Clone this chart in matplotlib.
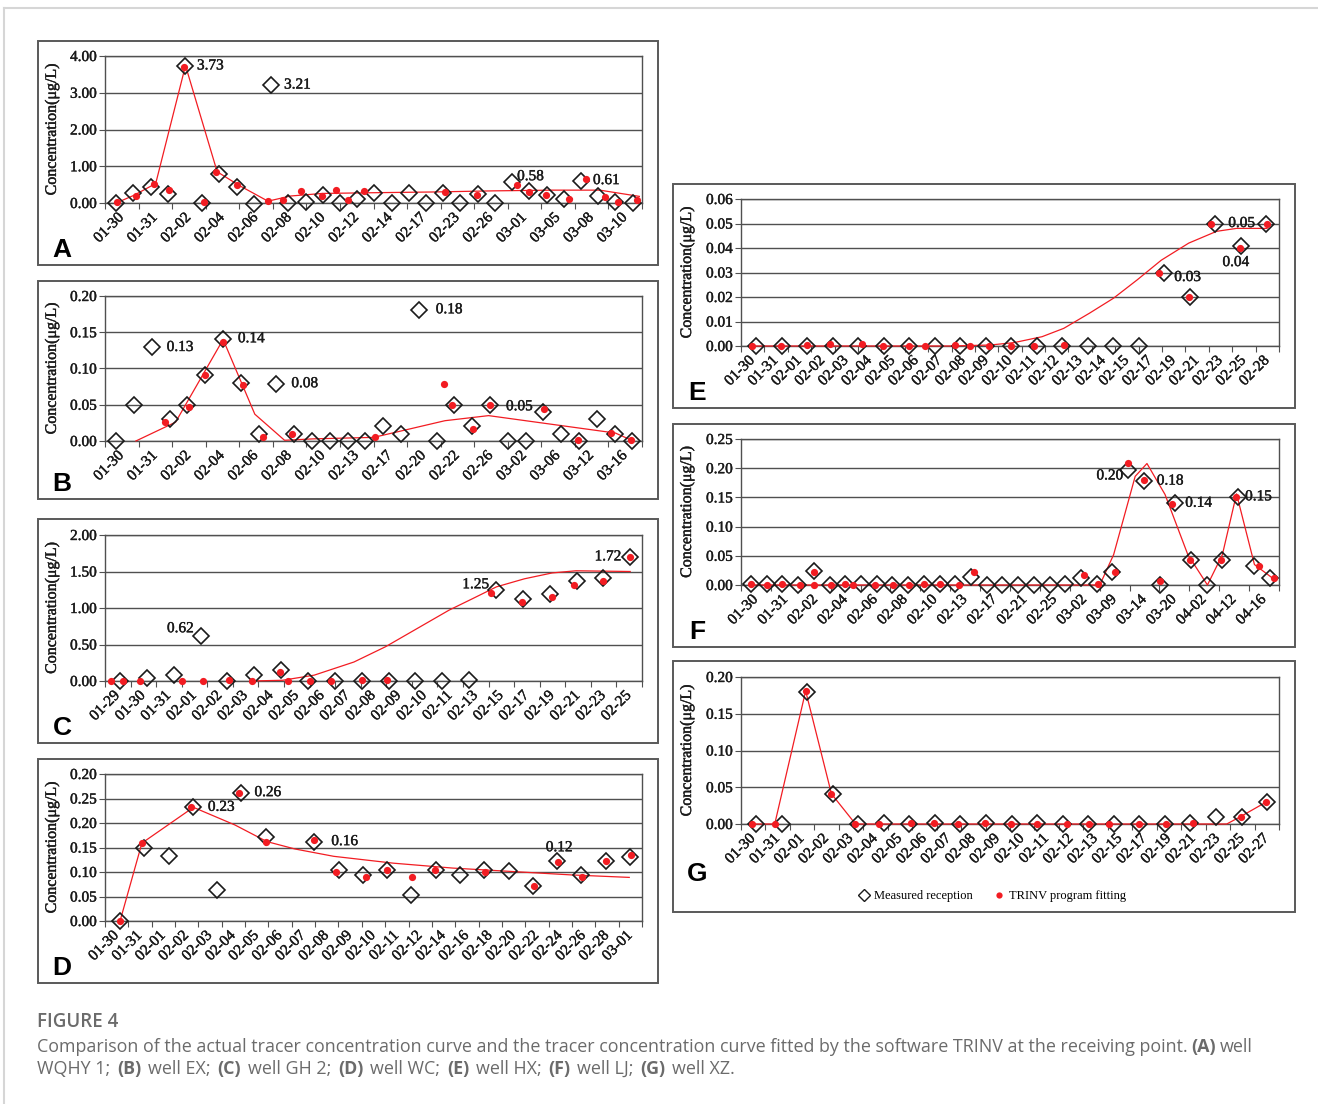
import numpy as np
import matplotlib
matplotlib.use('Agg')
import matplotlib.pyplot as plt
import matplotlib.patheffects as pe
from matplotlib.patches import Rectangle
from matplotlib.lines import Line2D

nan = np.nan

# ---------------- data (x of fitted/curve points in measured-sample index units) ----------------
a_labels = ['01-30', '01-31', '02-02', '02-04', '02-06', '02-08', '02-10', '02-12', '02-14', '02-17',
            '02-23', '02-26', '03-01', '03-05', '03-08', '03-10']
a_meas = [0.00, 0.26, 0.44, 0.24, 3.73, 0.00, 0.80, 0.44, -0.02, 3.21, 0.00, 0.02, 0.23, -0.01, 0.12, 0.27,
          -0.01, 0.27, 0.00, 0.27, 0.00, 0.24, 0.00, 0.58, 0.33, 0.21, 0.11, 0.61, 0.19, 0.02, 0.00]
a_fit_x = [0.07, 1.15, 2.19, 3.06, 3.96, 5.11, 5.83, 7.02, 8.82, 9.69, 10.73, 11.97, 12.78, 13.49, 14.37,
           19.09, 20.95, 23.26, 23.99, 24.94, 26.30, 27.31, 28.37, 29.13, 30.26]
a_fit_y = [0.03, 0.18, 0.51, 0.35, 3.71, 0.03, 0.85, 0.50, 0.06, 0.08, 0.34, 0.19, 0.36, 0.08, 0.33,
           0.30, 0.23, 0.48, 0.31, 0.21, 0.12, 0.64, 0.16, 0.03, 0.08]
a_line_x = [0, 1.04, 2.30, 4.03, 5.87, 7.14, 8.82, 10.13, 11.97, 14.97, 18.42, 21.87, 25.33, 28.09, 30.39]
a_line_y = [0, 0.21, 0.53, 3.74, 0.85, 0.48, 0.05, 0.19, 0.26, 0.28, 0.30, 0.33, 0.35, 0.35, 0.18]

b_labels = ['01-30', '01-31', '02-02', '02-04', '02-06', '02-08', '02-10', '02-13', '02-17', '02-20',
            '02-22', '02-26', '03-02', '03-06', '03-12', '03-16']
b_meas = [0, 0.050, 0.129, 0.030, 0.050, 0.091, 0.141, 0.080, 0.010, 0.079, 0.010, 0, 0, 0, 0, 0.020,
          0.010, 0.181, 0, 0.049, 0.020, 0.050, 0, 0, 0.040, 0.010, 0, 0.030, 0.010, 0]
b_fit_x = [2.72, 4.07, 5.01, 6.01, 7.12, 8.24, 9.86, 14.53, 18.43, 18.87, 20.03, 20.99, 24.04, 25.93,
           27.82, 28.93]
b_fit_y = [0.026, 0.047, 0.091, 0.137, 0.077, 0.006, 0.010, 0.006, 0.078, 0.049, 0.016, 0.050, 0.044,
           0.002, 0.011, 0.002]
b_line_x = [1.11, 3.34, 6.01, 7.79, 9.46, 11.13, 14.47, 18.47, 20.92, 24.48, 28.04, 29.04]
b_line_y = [0, 0.026, 0.140, 0.037, 0.001, 0.003, 0.005, 0.028, 0.035, 0.023, 0.011, 0.0]

c_labels = ['01-29', '01-30', '01-31', '02-01', '02-02', '02-03', '02-04', '02-05', '02-06', '02-07',
            '02-08', '02-09', '02-10', '02-11', '02-13', '02-15', '02-17', '02-19', '02-21', '02-23', '02-25']
c_meas = [0, 0.04, 0.08, 0.62, 0, 0.08, 0.15, 0, 0, 0, 0, 0, 0, 0.01, 1.25, 1.13, 1.19, 1.37, 1.41, 1.70]
c_fit_x = [-0.32, 0.12, 0.74, 2.29, 3.10, 4.06, 4.92, 5.95, 6.27, 7.09, 7.85, 9.00, 9.96, 13.80, 14.98,
           16.09, 16.92, 17.98, 19.00]
c_fit_y = [0, 0, 0, 0, 0, 0.01, 0, 0.12, 0, 0, 0, 0.01, 0.01, 1.20, 1.08, 1.15, 1.32, 1.37, 1.70]
c_line_x = [4.87, 6.05, 7.23, 8.71, 9.89, 11.07, 12.25, 13.14, 14.02, 15.06, 16.09, 16.98, 19.0]
c_line_y = [0, 0.01, 0.08, 0.26, 0.47, 0.72, 0.97, 1.13, 1.29, 1.40, 1.48, 1.51, 1.50]

d_labels = ['01-30', '01-31', '02-01', '02-02', '02-03', '02-04', '02-05', '02-06', '02-07', '02-08',
            '02-09', '02-10', '02-11', '02-12', '02-14', '02-16', '02-18', '02-20', '02-22', '02-24',
            '02-26', '02-28', '03-01']
d_meas = [0.00, 0.150, 0.132, 0.232, 0.063, 0.262, 0.172, nan, 0.162, 0.104, 0.094, 0.104, 0.053, 0.104,
          0.093, 0.104, 0.102, 0.072, 0.123, 0.094, 0.123, 0.131]
d_fit_x = [0, 0.90, 2.94, 4.89, 6.00, 8.0, 8.89, 10.12, 11.0, 12.04, 12.97, 15.01, 17.05, 18.03, 19.01,
           20.02, 21.05]
d_fit_y = [0, 0.159, 0.232, 0.262, 0.162, 0.166, 0.099, 0.089, 0.104, 0.089, 0.104, 0.099, 0.072, 0.120,
           0.090, 0.123, 0.134]
d_line_x = [0, 0.90, 3.02, 4.73, 6.05, 7.2, 8.8, 11.26, 13.7, 16.15, 18.6, 20.97]
d_line_y = [0, 0.159, 0.232, 0.196, 0.162, 0.147, 0.132, 0.118, 0.108, 0.101, 0.094, 0.089]
d_ticklabels = ['0.00', '0.05', '0.10', '0.15', '0.20', '0.25', '0.20']

e_labels = ['01-30', '01-31', '02-01', '02-02', '02-03', '02-04', '02-05', '02-06', '02-07', '02-08',
            '02-09', '02-10', '02-11', '02-12', '02-13', '02-14', '02-15', '02-17', '02-19', '02-21',
            '02-23', '02-25', '02-28']
e_meas = [0, 0, 0, 0, 0, 0, 0, 0, 0, 0, 0, 0, 0, 0, 0, 0, 0.030, 0.020, 0.050, 0.041, 0.050]
e_fit_x = [-0.16, 0.98, 1.99, 2.91, 4.17, 4.98, 5.99, 6.61, 7.81, 8.37, 9.14, 9.99, 10.89, 12.06, 15.80,
           16.96, 17.85, 18.96, 20.03]
e_fit_y = [0, 0, 0.0005, 0.0007, 0.0007, 0, 0, 0, 0.0003, 0, 0, 0, 0, 0.0003, 0.030, 0.020, 0.050,
           0.040, 0.050]
e_line_x = [-0.16, 7.63, 9.18, 10.12, 11.21, 12.06, 13.07, 14.01, 14.94, 15.88, 16.96, 18.05, 18.83, 20.03]
e_line_y = [0, 0, 0.0004, 0.0014, 0.0038, 0.0072, 0.0134, 0.0195, 0.027, 0.035, 0.042, 0.0468, 0.048, 0.048]

f_labels = ['01-30', '01-31', '02-02', '02-04', '02-06', '02-08', '02-10', '02-13', '02-17', '02-21',
            '02-25', '03-02', '03-09', '03-14', '03-20', '04-02', '04-12', '04-16']
f_meas = [0.002, 0.001, 0.001, 0, 0.024, 0, 0.001, 0.001, 0.001, 0, 0, 0.001, 0.001, 0.001, 0.013, 0, 0,
          0, 0, 0, 0.001, 0.012, 0.002, 0.023, 0.197, 0.178, 0, 0.140, 0.042, 0, 0.042, 0.151, 0.032, 0.012]
f_fit_x = [0, 1.01, 1.97, 3.11, 3.99, 3.99, 5.08, 5.97, 6.52, 7.91, 9.05, 10.06, 11.0, 12.06, 13.27, 14.17,
           21.17, 22.06, 23.19, 24.0, 25.04, 26.05, 26.78, 27.92, 29.89, 30.85, 32.36, 33.3]
f_fit_y = [0.002, 0, 0.002, 0, 0, 0.023, 0, 0.001, 0, 0, 0, 0, 0.001, 0.002, 0, 0.023,
           0.017, 0.002, 0.023, 0.209, 0.179, 0.006, 0.139, 0.042, 0.042, 0.151, 0.032, 0.012]
f_line_x = [0, 22.2, 23.08, 24.45, 25.2, 26.35, 27.8, 29.05, 30.0, 30.9, 32.04, 33.18]
f_line_y = [0, 0, 0.052, 0.186, 0.208, 0.155, 0.052, 0, 0.052, 0.156, 0.035, 0.012]

g_labels = ['01-30', '01-31', '02-01', '02-02', '02-03', '02-04', '02-05', '02-06', '02-07', '02-08',
            '02-09', '02-10', '02-11', '02-12', '02-13', '02-15', '02-17', '02-19', '02-21', '02-23',
            '02-25', '02-27']
g_meas = [0, 0, 0.179, 0.041, 0, 0.001, 0, 0.001, 0, 0.001, 0, 0.001, 0, 0, 0, 0, 0, 0.001, 0.010, 0.010, 0.030]
g_fit_x = [-0.16, 0.73, 1.94, 2.95, 3.89, 4.82, 6.06, 6.96, 7.89, 8.94, 9.98, 11.0, 12.17, 13.02, 13.83,
           15.0, 16.05, 17.09, 18.96, 19.97]
g_fit_y = [0, 0, 0.181, 0.041, 0, 0, 0.001, 0.001, 0, 0.002, 0, 0, 0, 0, 0, 0, 0, 0.002, 0.010, 0.030]
g_line_x = [-0.16, 0.73, 1.94, 2.95, 3.89, 18.42, 18.96, 19.97]
g_line_y = [0, 0, 0.181, 0.041, 0, 0, 0.010, 0.030]

# point labels: (sample index, text, dx px, dy px, ha)
a_notes = [(4, '3.73', 12, 0, 'left'), (9, '3.21', 13, 0, 'left'), (23, '0.58', 5, 5, 'left'),
           (27, '0.61', 12, 0, 'left')]
b_notes = [(2, '0.13', 15, 0, 'left'), (6, '0.14', 15, 0, 'left'), (9, '0.08', 15, 0, 'left'),
           (17, '0.18', 17, 0, 'left'), (21, '0.05', 16, -2, 'left')]
c_notes = [(3, '0.62', -7, 7, 'right'), (14, '1.25', -7, 5, 'right'), (19, '1.72', -9, 0, 'right')]
d_notes = [(3, '0.23', 15, 0, 'left'), (5, '0.26', 13, 0, 'left'), (8, '0.16', 17, 0, 'left'),
           (18, '0.12', 2, 13, 'center')]
e_notes = [(16, '0.03', 10, -5, 'left'), (18, '0.05', 13, 0, 'left'), (19, '0.04', -5, -17, 'center')]
f_notes = [(24, '0.20', -5, -6, 'right'), (25, '0.18', 13, 0, 'left'), (27, '0.14', 10, 0, 'left'),
           (31, '0.15', 7, 0, 'left')]

# ---------------- figure ----------------
W, H = 1318, 1104
RED = '#f21c22'
GRID = '#505050'
INK = '#1a1a1a'
plt.rcParams['font.family'] = 'serif'
plt.rcParams['font.serif'] = ['Liberation Serif', 'Times New Roman', 'DejaVu Serif']
THICK = [pe.withStroke(linewidth=0.3, foreground=INK)]

fig = plt.figure(figsize=(W / 100, H / 100), dpi=100)
fig.patch.set_facecolor('white')

# outer light border
fig.add_artist(Line2D([4 / W, 1], [1 - 8 / H, 1 - 8 / H], color='#d6d6d6', lw=1.5, transform=fig.transFigure))
fig.add_artist(Line2D([4 / W, 4 / W], [1 - 8 / H, 0], color='#d6d6d6', lw=1.5, transform=fig.transFigure))


def box(x0, y0, x1, y1):
    fig.add_artist(Rectangle((x0 / W, 1 - y1 / H), (x1 - x0) / W, (y1 - y0) / H, fill=False,
                             ec='#595959', lw=1.4, transform=fig.transFigure))


def panel(rect, frame, letter, labels, meas, fit_x, fit_y, line_x, line_y, x0, dx, ymax, ystep,
          notes=(), yticklabels=None, lab_x=-0.084, letter_y=None):
    box(*frame)
    px0, py0, px1, py1 = rect
    ax = fig.add_axes([px0 / W, 1 - py1 / H, (px1 - px0) / W, (py1 - py0) / H])
    n = len(labels)
    pos = lambda idx: x0 + dx * np.asarray(idx, float)
    ax.plot(pos(line_x), line_y, color=RED, lw=0.9, zorder=3, clip_on=False)
    ax.plot(pos(np.arange(len(meas))), meas, ls='none', marker='D', ms=8.3, mfc='none', mec=INK,
            mew=1.2, zorder=4, clip_on=False)
    ax.plot(pos(fit_x), fit_y, ls='none', marker='o', ms=5.2, mec='none', mfc=RED, zorder=5, clip_on=False)
    for idx, txt, ox, oy, ha in notes:
        ax.annotate(txt, (pos(idx), meas[idx]), xytext=(ox, oy), textcoords='offset pixels',
                    ha=ha, va='center', fontsize=11, color=INK, zorder=6, path_effects=THICK)
    ax.set_xlim(0, n)
    ax.set_ylim(0, ymax)
    yt = np.arange(0, ymax + ystep / 2, ystep)
    ax.set_yticks(yt)
    ax.set_yticklabels(yticklabels if yticklabels else ['%.2f' % v for v in yt], fontsize=11, color=INK)
    ax.grid(axis='y', color=GRID, lw=1.0)
    ax.set_axisbelow(True)
    ax.set_xticks(np.arange(n) + 0.5)
    ax.set_xticklabels(labels, rotation=45, ha='right', va='center', rotation_mode='anchor', fontsize=11,
                       color=INK)
    ax.set_xticks(np.arange(0, n + 0.01, 0.5), minor=True)
    ax.tick_params(axis='x', which='major', length=0, pad=9)
    ax.tick_params(axis='x', which='minor', length=4, color=GRID, width=0.8)
    ax.tick_params(axis='y', length=4, color=GRID, width=0.8, pad=2)
    for s in ax.spines.values():
        s.set_color(GRID)
        s.set_linewidth(1.0)
    ax.set_ylabel('Concentration(μg/L)', fontsize=11.5, color=INK)
    ax.yaxis.set_label_coords(lab_x, 0.5)
    for t in ax.get_xticklabels() + ax.get_yticklabels() + [ax.yaxis.label]:
        t.set_path_effects(THICK)
    ly = frame[3] - 8 if letter_y is None else letter_y
    fig.text((frame[0] + 24) / W, 1 - ly / H, letter, fontsize=19, fontweight='bold',
             family='Liberation Sans', ha='center', va='baseline')
    return ax


panel((105, 56, 642, 203), (38, 41, 658, 265), 'A', a_labels, a_meas, a_fit_x, a_fit_y, a_line_x, a_line_y,
      0.331, 0.513, 4.0, 1.0, a_notes)
panel((105, 296, 642, 441), (38, 281, 658, 499), 'B', b_labels, b_meas, b_fit_x, b_fit_y, b_line_x, b_line_y,
      0.331, 0.5305, 0.20, 0.05, b_notes)
panel((105, 535, 642, 681), (38, 519, 658, 743), 'C', c_labels, c_meas, c_fit_x, c_fit_y, c_line_x, c_line_y,
      0.589, 1.050, 2.0, 0.5, c_notes)
panel((105, 774, 642, 921), (38, 759, 658, 983), 'D', d_labels, d_meas, d_fit_x, d_fit_y, d_line_x, d_line_y,
      0.645, 1.040, 0.30, 0.05, d_notes, d_ticklabels)
panel((741, 199, 1279, 346), (673, 184, 1295, 408), 'E', e_labels, e_meas, e_fit_x, e_fit_y, e_line_x,
      e_line_y, 0.645, 1.0906, 0.06, 0.01, e_notes, lab_x=-0.0855)
panel((741, 439, 1279, 585), (673, 424, 1295, 647), 'F', f_labels, f_meas, f_fit_x, f_fit_y, f_line_x,
      f_line_y, 0.332, 0.5258, 0.25, 0.05, f_notes, lab_x=-0.0855)
panel((741, 677, 1279, 824), (673, 661, 1295, 912), 'G', g_labels, g_meas, g_fit_x, g_fit_y, g_line_x,
      g_line_y, 0.617, 1.0448, 0.20, 0.05, lab_x=-0.0855, letter_y=881)

handles = [Line2D([], [], ls='none', marker='D', ms=6, mfc='none', mec=INK, mew=1.0),
           Line2D([], [], ls='none', marker='o', ms=4.5, mec='none', mfc=RED)]
fig.legend(handles, ['Measured reception', 'TRINV program fitting'], loc='center',
           bbox_to_anchor=(992 / W, 1 - 896 / H), ncol=2, frameon=False, fontsize=9,
           handlelength=1.0, handletextpad=0.3, columnspacing=1.6)

# ---------------- caption ----------------
CAP = '#6b6b6b'
CAPFONT = 'Open Sans'
CAPSIZE = 12.9
fig.text(37 / W, 1 - 1027 / H, 'FIGURE 4', fontsize=13.5, fontweight='semibold', family=CAPFONT,
         color=CAP, va='baseline')

renderer = fig.canvas.get_renderer()


def rich(x, y, parts, size, end):
    items = []
    for txt, bold, gap in parts:
        t = fig.text(x / W, 1 - y / H, txt, fontsize=size, family=CAPFONT, color=CAP, va='baseline',
                     fontweight='bold' if bold else 'normal')
        items.append((t, t.get_window_extent(renderer).width, gap))
    ngap = sum(1 for it in items if it[2])
    gapw = (end - x - sum(it[1] for it in items)) / ngap
    for t, w, gap in items:
        t.set_x(x / W)
        x += w + (gapw if gap else 0)


line1 = [('Comparison of the actual tracer concentration curve and the tracer concentration curve fitted '
          'by the software TRINV at the receiving point.', False, True), ('(A)', True, True), ('well', False, False)]
line2 = [('WQHY 1;', False, True), ('(B)', True, True), ('well EX;', False, True), ('(C)', True, True),
         ('well GH 2;', False, True), ('(D)', True, True), ('well WC;', False, True), ('(E)', True, True),
         ('well HX;', False, True), ('(F)', True, True), ('well LJ;', False, True), ('(G)', True, True),
         ('well XZ.', False, False)]
rich(37, 1052, line1, CAPSIZE, 1253)
rich(37, 1074, line2, CAPSIZE, 735)

fig.savefig('out.png', dpi=100)
